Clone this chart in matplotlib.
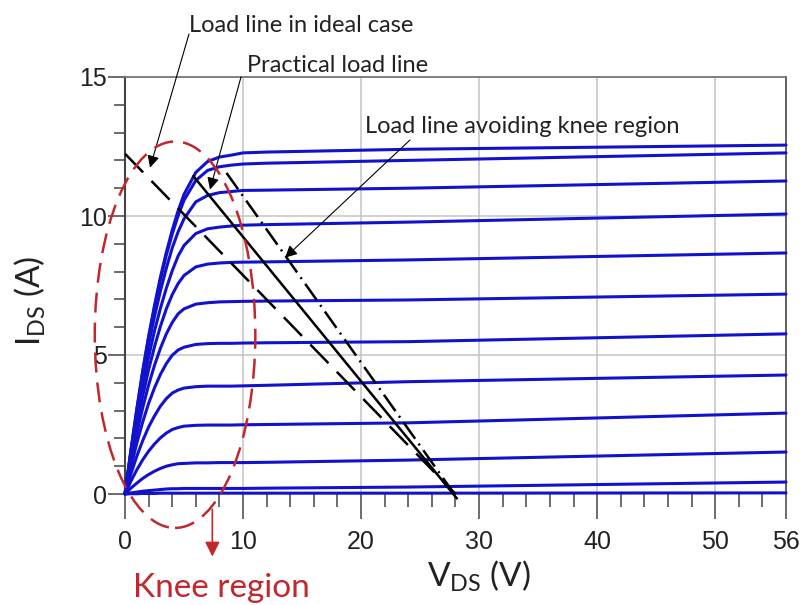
import matplotlib.pyplot as plt
import matplotlib.patches as mpatches
from matplotlib.ticker import MultipleLocator

plt.rcParams.update({
    "font.family": "Lato",
    "mathtext.fontset": "custom",
    "mathtext.rm": "Lato",
    "mathtext.it": "Lato:italic",
})

# ── Output characteristics (V_DS in V, I_DS in A) ──
vds = [0, 0.5, 1, 1.5, 2, 2.5, 3, 3.5, 4, 4.5, 5, 6, 7, 8, 9, 10, 12, 24, 56]

ids_c1 = [0, 1.57, 3.05, 4.43, 5.67, 6.78, 7.80, 8.69, 9.49, 10.19, 10.78, 11.57, 11.96, 12.12, 12.19, 12.27, 12.30, 12.40, 12.55]
ids_c2 = [0, 1.56, 3.03, 4.40, 5.62, 6.71, 7.70, 8.59, 9.35, 10.01, 10.57, 11.28, 11.64, 11.77, 11.83, 11.87, 11.90, 12.00, 12.27]
ids_c3 = [0, 1.50, 2.90, 4.20, 5.37, 6.39, 7.30, 8.12, 8.85, 9.43, 9.90, 10.51, 10.74, 10.84, 10.88, 10.92, 10.93, 11.00, 11.26]
ids_c4 = [0, 1.39, 2.68, 3.86, 4.93, 5.87, 6.68, 7.40, 8.03, 8.56, 8.94, 9.37, 9.54, 9.60, 9.64, 9.67, 9.69, 9.78, 10.07]
ids_c5 = [0, 1.28, 2.45, 3.52, 4.47, 5.30, 6.03, 6.66, 7.17, 7.57, 7.86, 8.17, 8.27, 8.31, 8.33, 8.34, 8.35, 8.42, 8.67]
ids_c6 = [0, 1.14, 2.18, 3.10, 3.92, 4.63, 5.24, 5.76, 6.17, 6.48, 6.66, 6.83, 6.88, 6.91, 6.92, 6.93, 6.94, 6.98, 7.19]
ids_c7 = [0, 0.96, 1.83, 2.59, 3.26, 3.82, 4.30, 4.69, 4.99, 5.18, 5.28, 5.38, 5.41, 5.42, 5.42, 5.43, 5.44, 5.48, 5.76]
ids_c8 = [0, 0.72, 1.36, 1.92, 2.41, 2.81, 3.16, 3.43, 3.63, 3.74, 3.81, 3.86, 3.88, 3.88, 3.88, 3.89, 3.91, 4.04, 4.28]
ids_c9 = [0, 0.46, 0.87, 1.23, 1.54, 1.80, 2.02, 2.19, 2.32, 2.39, 2.44, 2.47, 2.48, 2.48, 2.48, 2.49, 2.50, 2.56, 2.91]
ids_c10 = [0, 0.21, 0.39, 0.56, 0.70, 0.82, 0.92, 1.00, 1.05, 1.09, 1.10, 1.12, 1.12, 1.13, 1.13, 1.13, 1.14, 1.22, 1.51]
ids_c11 = [0, 0.04, 0.07, 0.10, 0.12, 0.14, 0.16, 0.18, 0.19, 0.19, 0.20, 0.20, 0.20, 0.20, 0.20, 0.20, 0.21, 0.25, 0.43]
ids_c12 = [0, 0.01, 0.01, 0.02, 0.02, 0.02, 0.03, 0.03, 0.03, 0.03, 0.03, 0.03, 0.03, 0.03, 0.03, 0.03, 0.03, 0.03, 0.04]

curves = [ids_c1, ids_c2, ids_c3, ids_c4, ids_c5, ids_c6,
          ids_c7, ids_c8, ids_c9, ids_c10, ids_c11, ids_c12]

# load lines (end points)
ideal_v, ideal_i = [0, 28.0], [12.24, 0]
practical_v, practical_i = [5.8, 28.1], [11.43, -0.15]
avoid_v, avoid_i = [8.6, 27.9], [11.55, 0]

x_major = [0, 10, 20, 30, 40, 50, 56]
y_major = [0, 5, 10, 15]

BLUE = "#1212cc"
RED = "#c0282d"
W, H = 803, 605


def fx(px):
    return px / W


def fy(py):
    return 1 - py / H


fig = plt.figure(figsize=(W / 100, H / 100), dpi=100)
ax = fig.add_axes([fx(125), fy(494), (786 - 125) / W, (494 - 77) / H])

for ids in curves:
    ax.plot(vds, ids, color=BLUE, lw=2.2, solid_capstyle="round",
            solid_joinstyle="round", clip_on=False, zorder=3)

# ── Load lines ──
ax.plot(ideal_v, ideal_i, color="black", lw=1.8, linestyle=(0, (10.4, 4.8)), zorder=4)
ax.plot(practical_v, practical_i, color="black", lw=1.8, clip_on=False, zorder=4)
ax.plot(avoid_v, avoid_i, color="black", lw=1.8, linestyle=(0, (8, 2.4, 0.8, 2.4)), zorder=4)

# ── Axes styling ──
ax.set_xlim(0, 56)
ax.set_ylim(0, 15)
ax.set_xticks(x_major)
ax.set_yticks(y_major)
ax.xaxis.set_minor_locator(MultipleLocator(2))
ax.yaxis.set_minor_locator(MultipleLocator(1))
ax.grid(True, which="major", color="#c4c4c4", lw=1.1, zorder=0)
ax.set_axisbelow(True)

ax.tick_params(axis="x", which="major", length=18, width=1.1, color="#444444",
               labelsize=18, pad=8, labelcolor="#222222",
               labelfontfamily="Liberation Sans")
ax.tick_params(axis="x", which="minor", length=9.5, width=1.1, color="#444444")
ax.tick_params(axis="y", which="major", length=12, width=1.1, color="#444444",
               labelsize=18, pad=1, labelcolor="#222222",
               labelfontfamily="Liberation Sans")
ax.tick_params(axis="y", which="minor", length=8, width=1.1, color="#444444")

ax.spines["bottom"].set_visible(False)
ax.spines["left"].set_color("#444444")
ax.spines["left"].set_linewidth(1.5)
ax.spines["right"].set_color("#555555")
ax.spines["right"].set_linewidth(1.3)
ax.spines["top"].set_color("#777777")
ax.spines["top"].set_linewidth(1.3)

fig.text(fx(30), fy(301), r"I$_{\rm DS}$ (A)", rotation=90, fontsize=24,
         ha="center", va="center", color="#222222")
fig.text(fx(479), fy(576), r"V$_{\rm DS}$ (V)", fontsize=24,
         ha="center", va="center", color="#222222")

# ── Knee region ellipse ──
knee = mpatches.Ellipse((4.24, 5.73), width=13.6, height=13.9, fill=False,
                        edgecolor=RED, lw=1.8, linestyle=(0, (8, 4)),
                        clip_on=False, zorder=5)
ax.add_patch(knee)
ax.annotate("", xy=(7.4, -2.25), xytext=(7.4, -0.55),
            arrowprops=dict(arrowstyle="-|>", color=RED, lw=1.2,
                            mutation_scale=22, shrinkA=0, shrinkB=0),
            annotation_clip=False)
fig.text(fx(133), fy(597), "Knee region", fontsize=24, color=RED,
         ha="left", va="baseline")

# ── Annotations ──
notes = [
    ("Load line in ideal case", (189, 32), (2.12, 11.74), (189, 34)),
    ("Practical load line", (247, 72), (7.2, 10.95), (241, 77)),
    ("Load line avoiding knee region", (365, 133), (13.56, 8.5), (410, 140)),
]
for txt, (tx, ty), tip, (sx, sy) in notes:
    fig.text(fx(tx), fy(ty), txt, fontsize=17, color="#222222",
             ha="left", va="baseline")
    ax.annotate("", xy=tip, xycoords="data",
                xytext=(fx(sx), fy(sy)), textcoords="figure fraction",
                arrowprops=dict(arrowstyle="-|>", color="black", lw=0.8,
                                mutation_scale=18, shrinkA=0, shrinkB=0),
                annotation_clip=False)

fig.savefig("out.png", dpi=100)
